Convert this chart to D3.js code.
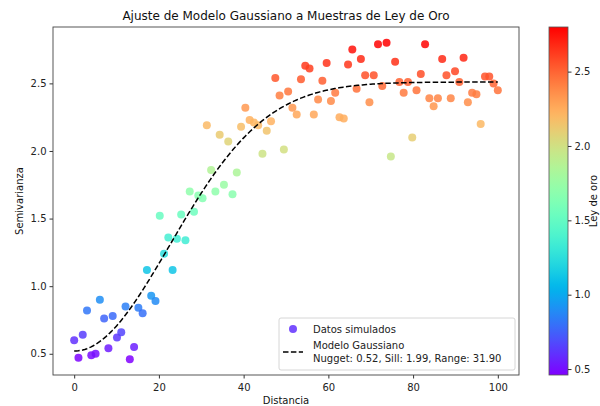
<!DOCTYPE html>
<html>
<head>
<meta charset="utf-8">
<script src="https://cdn.jsdelivr.net/npm/d3@7"></script>
<style>
  html, body { margin: 0; padding: 0; background: #fff; }
  svg { display: block; font-family: "DejaVu Sans", sans-serif; }
</style>
</head>
<body>
<svg id="chart" width="600" height="406"></svg>
<script>
// Sample semivariance values, one per lag (lags spaced evenly from 0 to 100)
const semivarianza = [
  0.60, 0.47, 0.64, 0.82, 0.49, 0.50, 0.90, 0.76, 0.54, 0.78,
  0.62, 0.66, 0.85, 0.46, 0.55, 0.84, 0.80, 1.12, 0.93, 0.89,
  1.52, 1.24, 1.36, 1.12, 1.35, 1.53, 1.34, 1.70, 1.55, 1.67,
  1.65, 2.19, 1.86, 1.70, 2.12, 1.75, 2.07, 1.68, 1.84, 2.18,
  2.32, 2.23, 2.21, 2.19, 1.98, 2.15, 2.22, 2.54, 2.41, 2.01,
  2.44, 2.32, 2.27, 2.53, 2.63, 2.61, 2.27, 2.38, 2.52, 2.65,
  2.37, 2.43, 2.25, 2.24, 2.64, 2.75, 2.46, 2.68, 2.56, 2.36,
  2.56, 2.79, 2.48, 2.80, 1.96, 2.66, 2.51, 2.43, 2.51, 2.10,
  2.45, 2.57, 2.79, 2.39, 2.33, 2.39, 2.68, 2.56, 2.39, 2.59,
  2.51, 2.69, 2.36, 2.43, 2.42, 2.20, 2.55, 2.55, 2.50, 2.45
];
const distancia = semivarianza.map((_, i) => i * 100 / (semivarianza.length - 1));

// Fitted Gaussian variogram parameters
const nugget = 0.52, sill = 1.99, rango = 31.90;

const xTicks = [0, 20, 40, 60, 80, 100];
const yTicks = [0.5, 1.0, 1.5, 2.0, 2.5];
const cbTicks = [0.5, 1.0, 1.5, 2.0, 2.5];

const titulo = "Ajuste de Modelo Gaussiano a Muestras de Ley de Oro";
const etiquetaX = "Distancia";
const etiquetaY = "Semivarianza";
const etiquetaColor = "Ley de oro";
const leyendaDatos = "Datos simulados";
const leyendaModelo = ["Modelo Gaussiano", "Nugget: 0.52, Sill: 1.99, Range: 31.90"];

// Gaussian model
const gauss = h => nugget + sill * (1 - Math.exp(-Math.pow(h / rango, 2)));

// matplotlib-style "rainbow" colormap
function rainbow(t) {
  t = Math.max(0, Math.min(1, t));
  const r = Math.min(1, Math.abs(2 * t - 0.5));
  const g = Math.sin(t * Math.PI);
  const b = Math.cos(t * Math.PI / 2);
  return d3.rgb(r * 255, g * 255, b * 255).formatHex();
}

const svg = d3.select("#chart");
const plot = { left: 53, right: 519, top: 27, bottom: 375 };

const modeloX = d3.range(0, 100.0001, 0.5);
const modeloY = modeloX.map(gauss);

function padded(ext) {
  const m = (ext[1] - ext[0]) * 0.05;
  return [ext[0] - m, ext[1] + m];
}
const xDom = padded(d3.extent(distancia));
const yDom = padded(d3.extent(semivarianza.concat(modeloY)));

const x = d3.scaleLinear().domain(xDom).range([plot.left, plot.right]);
const y = d3.scaleLinear().domain(yDom).range([plot.bottom, plot.top]);
const cExt = d3.extent(semivarianza);
const cNorm = d3.scaleLinear().domain(cExt).range([0, 1]);

// Axes
const xAxis = svg.append("g")
  .attr("transform", `translate(0,${plot.bottom})`)
  .call(d3.axisBottom(x).tickValues(xTicks).tickFormat(d3.format("d")).tickSizeOuter(0).tickSize(3.5));
const yAxis = svg.append("g")
  .attr("transform", `translate(${plot.left},0)`)
  .call(d3.axisLeft(y).tickValues(yTicks).tickFormat(d3.format(".1f")).tickSizeOuter(0).tickSize(3.5));
[xAxis, yAxis].forEach(a => {
  a.select(".domain").remove();
  a.selectAll("text").attr("font-size", 10).attr("fill", "#222").attr("font-family", "DejaVu Sans");
  a.selectAll("line").attr("stroke", "#333");
});
xAxis.selectAll("text").attr("dy", "0.9em");

// Points
svg.append("g")
  .selectAll("circle")
  .data(semivarianza)
  .join("circle")
  .attr("cx", (d, i) => x(distancia[i]))
  .attr("cy", d => y(d))
  .attr("r", 4)
  .attr("fill", d => rainbow(cNorm(d)))
  .attr("fill-opacity", 0.85);

// Model curve
svg.append("path")
  .datum(modeloX.map((h, i) => [h, modeloY[i]]))
  .attr("fill", "none")
  .attr("stroke", "#000")
  .attr("stroke-width", 1.5)
  .attr("stroke-dasharray", "5.5,2.4")
  .attr("d", d3.line().x(d => x(d[0])).y(d => y(d[1])));

// Frame
svg.append("rect")
  .attr("x", plot.left).attr("y", plot.top)
  .attr("width", plot.right - plot.left).attr("height", plot.bottom - plot.top)
  .attr("fill", "none").attr("stroke", "#444").attr("stroke-width", 0.9);

// Titles
svg.append("text").attr("x", (plot.left + plot.right) / 2).attr("y", 20)
  .attr("text-anchor", "middle").attr("font-size", 12).attr("fill", "#111").text(titulo);
svg.append("text").attr("x", (plot.left + plot.right) / 2).attr("y", 404)
  .attr("text-anchor", "middle").attr("font-size", 10).attr("fill", "#111").text(etiquetaX);
svg.append("text").attr("transform", `translate(23,${(plot.top + plot.bottom) / 2}) rotate(-90)`)
  .attr("text-anchor", "middle").attr("font-size", 10).attr("fill", "#111").text(etiquetaY);

// Legend
const lg = svg.append("g").attr("transform", "translate(279,318)");
lg.append("rect").attr("width", 236).attr("height", 52).attr("rx", 2)
  .attr("fill", "#fff").attr("fill-opacity", 0.8).attr("stroke", "#ccc").attr("stroke-width", 0.8);
lg.append("circle").attr("cx", 14).attr("cy", 11).attr("r", 4)
  .attr("fill", rainbow(cNorm(semivarianza[0]))).attr("fill-opacity", 0.85);
lg.append("text").attr("x", 34).attr("y", 15).attr("font-size", 10).attr("fill", "#222").text(leyendaDatos);
lg.append("line").attr("x1", 4).attr("x2", 24).attr("y1", 34).attr("y2", 34)
  .attr("stroke", "#000").attr("stroke-width", 1.5).attr("stroke-dasharray", "5.5,2.4");
leyendaModelo.forEach((t, i) => {
  lg.append("text").attr("x", 34).attr("y", 31 + i * 13).attr("font-size", 10).attr("fill", "#222").text(t);
});

// Colorbar
const cb = { x: 549, w: 19, top: plot.top, bottom: plot.bottom };
const grad = svg.append("defs").append("linearGradient").attr("id", "cbgrad")
  .attr("x1", 0).attr("y1", 1).attr("x2", 0).attr("y2", 0);
d3.range(0, 1.0001, 0.02).forEach(t => {
  grad.append("stop").attr("offset", t).attr("stop-color", rainbow(t));
});
svg.append("rect").attr("x", cb.x).attr("y", cb.top).attr("width", cb.w).attr("height", cb.bottom - cb.top)
  .attr("fill", "url(#cbgrad)").attr("stroke", "#555").attr("stroke-width", 0.8);
const cScale = d3.scaleLinear().domain(cExt).range([cb.bottom, cb.top]);
const cAxis = svg.append("g").attr("transform", `translate(${cb.x + cb.w},0)`)
  .call(d3.axisRight(cScale).tickValues(cbTicks).tickFormat(d3.format(".1f")).tickSizeOuter(0).tickSize(3.5));
cAxis.select(".domain").remove();
cAxis.selectAll("text").attr("font-size", 10).attr("fill", "#222").attr("font-family", "DejaVu Sans");
cAxis.selectAll("line").attr("stroke", "#333");
svg.append("text").attr("transform", `translate(597,${(cb.top + cb.bottom) / 2}) rotate(-90)`)
  .attr("text-anchor", "middle").attr("font-size", 10).attr("fill", "#111").text(etiquetaColor);
</script>
</body>
</html>
